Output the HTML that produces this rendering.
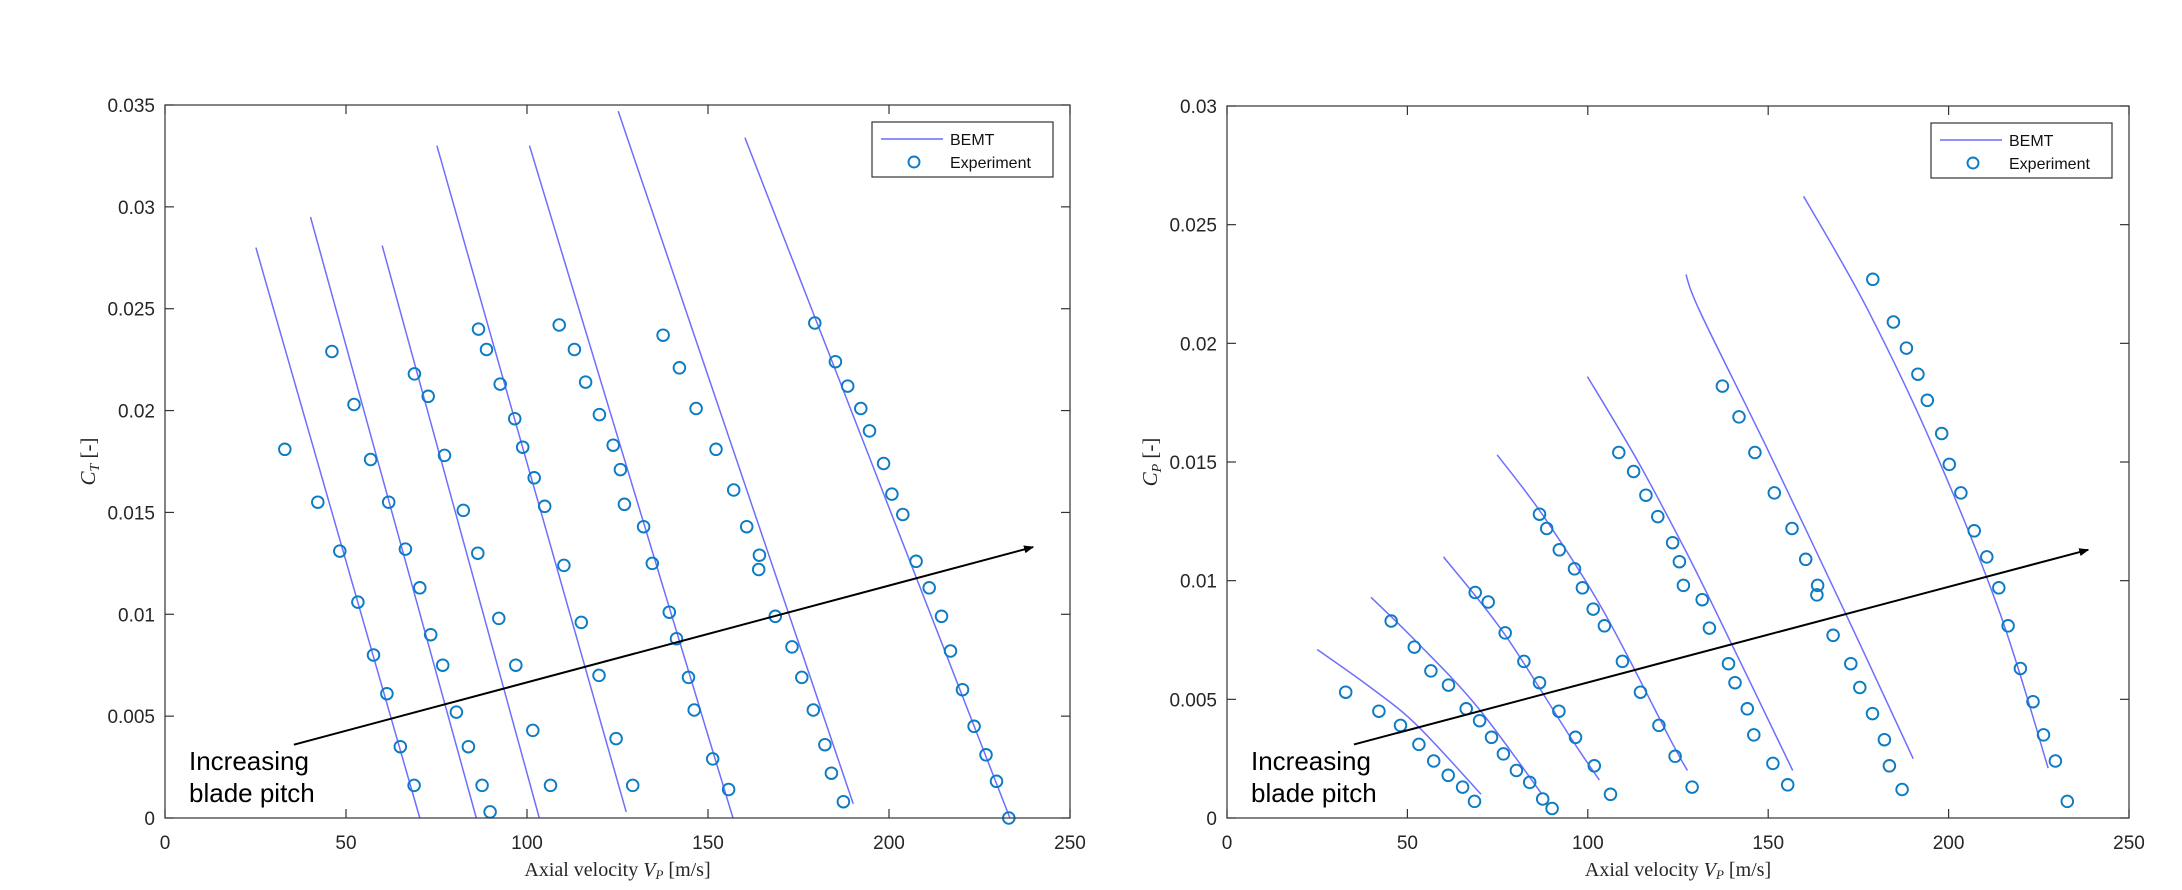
<!DOCTYPE html>
<html><head><meta charset="utf-8"><style>
html,body{margin:0;padding:0;background:#fff;}
svg{display:block;font-family:"Liberation Sans",sans-serif;}
</style></head><body>
<svg id="fig" width="2182" height="890" viewBox="0 0 2182 890" xmlns="http://www.w3.org/2000/svg"></svg>
<script>
// ---- data: thrust coefficient chart (left) ----
const ctLineX = [[25.1,70.4],[40.2,86.0],[60.0,103.4],[75.1,127.4],[100.7,156.9],[125.2,190.1],[160.2,233.4]];
const ctLineY = [[0.0280,0.0],[0.0295,0.0],[0.0281,0.0],[0.0330,0.0003],[0.0330,0.0],[0.0347,0.0007],[0.0334,0.0]];
const ctExpX = [
 [33.1,42.2,48.3,53.3,57.6,61.3,65.0,68.8],
 [46.1,52.2,56.8,61.8,66.4,70.4,73.4,76.7,80.5,83.8,87.6,89.8],
 [68.9,72.7,77.2,82.4,86.4,92.2,96.9,101.6,106.5],
 [86.6,88.8,92.6,96.6,98.8,102.0,104.9,110.2,115.0,119.9,124.6,129.2],
 [108.9,113.1,116.2,120.0,123.8,125.8,126.9,132.2,134.6,139.3,141.3,144.6,146.2,151.3,155.7],
 [137.6,142.1,146.7,152.2,157.1,160.7,164.2,164.0,168.6,173.2,175.9,179.1,182.3,184.1,187.4],
 [179.5,185.2,188.6,192.2,194.6,198.5,200.8,203.8,207.5,211.1,214.5,217.0,220.3,223.5,226.8,229.7,233.1]];
const ctExpY = [
 [0.0181,0.0155,0.0131,0.0106,0.0080,0.0061,0.0035,0.0016],
 [0.0229,0.0203,0.0176,0.0155,0.0132,0.0113,0.0090,0.0075,0.0052,0.0035,0.0016,0.0003],
 [0.0218,0.0207,0.0178,0.0151,0.0130,0.0098,0.0075,0.0043,0.0016],
 [0.0240,0.0230,0.0213,0.0196,0.0182,0.0167,0.0153,0.0124,0.0096,0.0070,0.0039,0.0016],
 [0.0242,0.0230,0.0214,0.0198,0.0183,0.0171,0.0154,0.0143,0.0125,0.0101,0.0088,0.0069,0.0053,0.0029,0.0014],
 [0.0237,0.0221,0.0201,0.0181,0.0161,0.0143,0.0129,0.0122,0.0099,0.0084,0.0069,0.0053,0.0036,0.0022,0.0008],
 [0.0243,0.0224,0.0212,0.0201,0.0190,0.0174,0.0159,0.0149,0.0126,0.0113,0.0099,0.0082,0.0063,0.0045,0.0031,0.0018,0.0000]];
const ctYTicks = [0,0.005,0.01,0.015,0.02,0.025,0.03,0.035];
const ctYTickLabels = ["0","0.005","0.01","0.015","0.02","0.025","0.03","0.035"];
// ---- data: power coefficient chart (right) ----
const cpLineX = [[25.0,39.8,52.7,70.4],[39.9,52.7,69.3,87.3],[60.0,76.7,95.2,103.2],[74.9,87.8,104.4,122.9,127.6],[99.9,113.6,125.6,133.9,156.8],[127.2,131.2,149.6,171.8,190.2],[159.8,177.3,195.8,214.3,227.6]];
const cpLineY = [[0.0071,0.0055,0.0039,0.0010],[0.0093,0.0074,0.0047,0.0010],[0.0110,0.0078,0.0034,0.0016],[0.0153,0.0127,0.0087,0.0033,0.0020],[0.0186,0.0151,0.0117,0.0092,0.0020],[0.0229,0.0213,0.0156,0.0085,0.0025],[0.0262,0.0215,0.0156,0.0086,0.0021]];
const cpExpX = [
 [32.9,42.1,48.1,53.2,57.3,61.3,65.3,68.6],
 [45.5,51.9,56.5,61.4,66.3,70.0,73.3,76.6,80.2,83.9,87.5,90.1],
 [68.8,72.4,77.1,82.3,86.6,92.0,96.6,101.8,106.3],
 [86.6,88.6,92.1,96.3,98.5,101.5,104.6,109.6,114.6,119.7,124.2,128.9],
 [108.6,112.7,116.1,119.4,123.5,125.4,126.5,131.7,133.7,139.0,140.8,144.2,146.0,151.3,155.4],
 [137.3,141.9,146.3,151.7,156.6,160.4,163.7,163.5,168.0,172.9,175.4,178.9,182.2,183.6,187.1],
 [179.0,184.7,188.3,191.5,194.1,198.1,200.2,203.4,207.1,210.6,213.9,216.5,219.9,223.4,226.3,229.6,232.9]];
const cpExpY = [
 [0.0053,0.0045,0.0039,0.0031,0.0024,0.0018,0.0013,0.0007],
 [0.0083,0.0072,0.0062,0.0056,0.0046,0.0041,0.0034,0.0027,0.0020,0.0015,0.0008,0.0004],
 [0.0095,0.0091,0.0078,0.0066,0.0057,0.0045,0.0034,0.0022,0.0010],
 [0.0128,0.0122,0.0113,0.0105,0.0097,0.0088,0.0081,0.0066,0.0053,0.0039,0.0026,0.0013],
 [0.0154,0.0146,0.0136,0.0127,0.0116,0.0108,0.0098,0.0092,0.0080,0.0065,0.0057,0.0046,0.0035,0.0023,0.0014],
 [0.0182,0.0169,0.0154,0.0137,0.0122,0.0109,0.0098,0.0094,0.0077,0.0065,0.0055,0.0044,0.0033,0.0022,0.0012],
 [0.0227,0.0209,0.0198,0.0187,0.0176,0.0162,0.0149,0.0137,0.0121,0.0110,0.0097,0.0081,0.0063,0.0049,0.0035,0.0024,0.0007]];
const cpYTicks = [0,0.005,0.01,0.015,0.02,0.025,0.03];
const cpYTickLabels = ["0","0.005","0.01","0.015","0.02","0.025","0.03"];
const xTicks = [0,50,100,150,200,250];
const xTickLabels = ["0","50","100","150","200","250"];
const ctArrow = [[35.6,0.0036],[239.8,0.0133]];
const cpArrow = [[35.2,0.0031],[238.7,0.0113]];

const NS = "http://www.w3.org/2000/svg";
const svg = document.getElementById('fig');
function mk(tag, attrs, parent){
  const e = document.createElementNS(NS, tag);
  for (const k in attrs) e.setAttribute(k, attrs[k]);
  (parent||svg).appendChild(e);
  return e;
}
const defs = mk('defs',{});
const mkr = mk('marker',{id:'ah',markerWidth:'10',markerHeight:'8',refX:'9',refY:'4',orient:'auto',markerUnits:'userSpaceOnUse'},defs);
mk('path',{d:'M0,0 L10,4 L0,8 Z',fill:'#000'},mkr);

function smoothPath(pts){
  if (pts.length < 3) return pts.map((p,j)=>(j?'L':'M')+p[0].toFixed(1)+','+p[1].toFixed(1)).join(' ');
  let d = 'M'+pts[0][0].toFixed(1)+','+pts[0][1].toFixed(1);
  for (let i=0;i<pts.length-1;i++){
    const p0 = pts[i-1]||pts[i], p1=pts[i], p2=pts[i+1], p3=pts[i+2]||pts[i+1];
    const c1=[p1[0]+(p2[0]-p0[0])/6, p1[1]+(p2[1]-p0[1])/6];
    const c2=[p2[0]-(p3[0]-p1[0])/6, p2[1]-(p3[1]-p1[1])/6];
    d += ' C'+c1[0].toFixed(1)+','+c1[1].toFixed(1)+' '+c2[0].toFixed(1)+','+c2[1].toFixed(1)+' '+p2[0].toFixed(1)+','+p2[1].toFixed(1);
  }
  return d;
}

function chart(cfg){
  const g = mk('g',{});
  
  
  const L=cfg.left,R=cfg.right,T=cfg.top,B=cfg.bottom;
  const sx = v => L + v/250*(R-L);
  const sy = v => B - v/cfg.ymax*(B-T);
  cfg.lx.forEach((xs,i)=>{
    const pts = xs.map((x,j)=>[sx(x), sy(cfg.ly[i][j])]);
    const p = mk('path',{d:smoothPath(pts),fill:'none',stroke:'#6e6eff','stroke-width':'1.5'},g);
    
    
  });
  cfg.ex.forEach((xs,i)=>{
    xs.forEach((x,j)=>{
      const c = mk('circle',{cx:sx(x).toFixed(1),cy:sy(cfg.ey[i][j]).toFixed(1),r:'5.8',fill:'none',stroke:'#0b7bc4','stroke-width':'1.9'},g);
      
      
    });
  });
  const a = mk('line',{x1:sx(cfg.arrow[0][0]),y1:sy(cfg.arrow[0][1]),x2:sx(cfg.arrow[1][0]),y2:sy(cfg.arrow[1][1]),stroke:'#000','stroke-width':'2','marker-end':'url(#ah)'},g);
  
  
  const box = mk('rect',{x:L,y:T,width:R-L,height:B-T,fill:'none',stroke:'#333','stroke-width':'1.2'},g);
  
  
  xTicks.forEach((t,i)=>{
    const x=sx(t);
    mk('line',{x1:x,y1:B,x2:x,y2:B-9,stroke:'#333','stroke-width':'1.2'},g);
    mk('line',{x1:x,y1:T,x2:x,y2:T+9,stroke:'#333','stroke-width':'1.2'},g);
    const tx = mk('text',{x:x,y:B+31,'text-anchor':'middle','font-size':'19',fill:'#262626'},g);
    tx.textContent = xTickLabels[i];
    
    
  });
  cfg.yt.forEach((t,i)=>{
    const y=sy(t);
    mk('line',{x1:L,y1:y,x2:L+9,y2:y,stroke:'#333','stroke-width':'1.2'},g);
    mk('line',{x1:R,y1:y,x2:R-9,y2:y,stroke:'#333','stroke-width':'1.2'},g);
    const tx = mk('text',{x:L-10,y:y+7,'text-anchor':'end','font-size':'19',fill:'#262626'},g);
    tx.textContent = cfg.ytl[i];
    
    
  });
  const xt = mk('text',{x:(L+R)/2,y:B+58,'text-anchor':'middle','font-size':'20','font-family':'"Liberation Serif",serif',fill:'#262626'},g);
  xt.innerHTML = 'Axial velocity <tspan font-style="italic">V</tspan><tspan font-style="italic" font-size="13" dy="3">P</tspan><tspan dy="-3"> [m/s]</tspan>';
  
  
  const yx = L-70, yy=(T+B)/2;
  const yt = mk('text',{x:yx,y:yy,'text-anchor':'middle','font-size':'21','font-family':'"Liberation Serif",serif',fill:'#262626',transform:'rotate(-90 '+yx+' '+yy+')'},g);
  yt.innerHTML = '<tspan font-style="italic">C</tspan><tspan font-style="italic" font-size="14" dy="4">'+cfg.sub+'</tspan><tspan dy="-4"> [-]</tspan>';
  
  
  const an = mk('text',{x:L+24,y:B-48,'font-size':'26',fill:'#000'},g);
  an.innerHTML = '<tspan x="'+(L+24)+'">Increasing</tspan><tspan x="'+(L+24)+'" dy="32">blade pitch</tspan>';
  
  
  const lg = mk('g',{},g);
  
  
  const lx = R-198;
  mk('rect',{x:lx,y:T+17,width:181,height:55,fill:'#fff',stroke:'#333','stroke-width':'1.2'},lg);
  mk('line',{x1:lx+9,y1:T+34,x2:lx+71,y2:T+34,stroke:'#8f8fff','stroke-width':'2'},lg);
  mk('circle',{cx:lx+42,cy:T+57,r:'5.5',fill:'none',stroke:'#0b7bc4','stroke-width':'1.9'},lg);
  const t1 = mk('text',{x:lx+78,y:T+40,'font-size':'16',fill:'#111'},lg); t1.textContent='BEMT';
  
  
  const t2 = mk('text',{x:lx+78,y:T+63,'font-size':'16',fill:'#111'},lg); t2.textContent='Experiment';
  
  
}
chart({name:'thrust-coefficient-chart',left:165,right:1070,top:105,bottom:818,ymax:0.035,yt:ctYTicks,ytl:ctYTickLabels,lx:ctLineX,ly:ctLineY,ex:ctExpX,ey:ctExpY,arrow:ctArrow,sub:'T'});
chart({name:'power-coefficient-chart',left:1227,right:2129,top:106,bottom:818,ymax:0.03,yt:cpYTicks,ytl:cpYTickLabels,lx:cpLineX,ly:cpLineY,ex:cpExpX,ey:cpExpY,arrow:cpArrow,sub:'P'});
</script>
</body></html>
